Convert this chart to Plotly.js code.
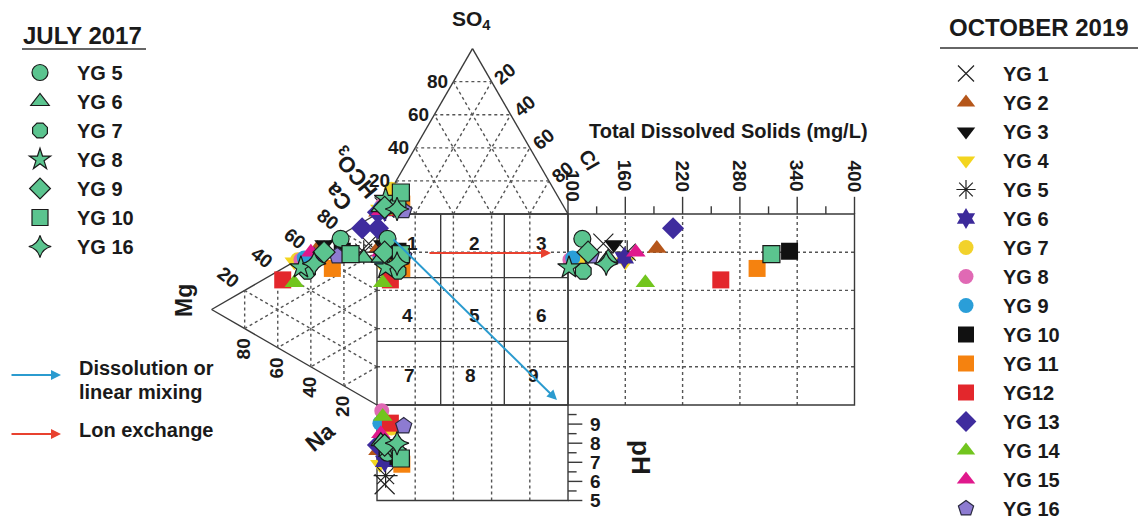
<!DOCTYPE html>
<html><head><meta charset="utf-8">
<script src="https://cdn.plot.ly/plotly-3.0.1.min.js"></script>
<style>html,body{margin:0;padding:0;background:#fff;} #chart{width:1142px;height:528px;}</style>
</head><body><div id="chart"></div>
<script>
// ---------------- DATA ----------------
// July 2017 samples
const julyNames   = ['YG 5','YG 6','YG 7','YG 8','YG 9','YG 10','YG 16'];
const julySymbols = ['circle','triangle-up','octagon','star','diamond','square','star-diamond'];
const julyCa   = [76, 73, 49, 49, 64, 71, 55];
const julyMg   = [22,  8, 42, 46, 32, 16, 38];
const julyNa   = [ 2, 19,  9,  5,  4, 13,  7];
const julyHCO3 = [92, 96, 86, 91, 94, 81, 88];
const julySO4  = [ 5,  4,  6,  9,  4, 13,  3];
const julyCl   = [ 3,  0,  8,  0,  2,  6,  9];
const julyTDS  = [115, 142, 116, 101, 121, 313, 140];
const julyPH   = [7.5, 8.1, 7.5, 7.8, 7.9, 7.2, 8.0];

// October 2019 samples
const octNames   = ['YG 1','YG 2','YG 3','YG 4','YG 5','YG 6','YG 7','YG 8','YG 9','YG 10','YG 11','YG12','YG 13','YG 14','YG 15','YG 16'];
const octSymbols = ['x-thin-open','triangle-up','triangle-down','triangle-down','asterisk-open','hexagram','circle','circle','circle','square','square','square','diamond','triangle-up','triangle-up','pentagon'];
const octColors  = ['#222222','#B5561A','#111111','#F3D51E','#222222','#3C2A9A','#F2D22B','#E069B4','#2A9ED8','#111111','#F5820F','#E3272C','#3F2C9E','#72C51E','#E0188C','#8D7BD1'];
const octCa   = [82, 64, 68, 50, 76, 58, 52, 53, 55, 70, 58, 37, 88, 39, 60, 66];
const octMg   = [ 5, 36, 32, 50,  8, 38, 48, 46, 44, 21, 27, 57,  9, 50, 40, 24];
const octNa   = [13,  0,  0,  0, 16,  4,  0,  1,  1,  9, 15,  6,  3, 11,  0, 10];
const octHCO3 = [94, 99, 96, 97, 94, 95, 85, 95, 97, 87, 84, 91, 99, 96, 97, 85];
const octSO4  = [ 4,  1,  2,  3,  3,  2, 15,  5,  3,  4,  6,  4,  1,  2,  2,  2];
const octCl   = [ 2,  0,  2,  0,  3,  3,  0,  0,  0,  9, 10,  5,  0,  2,  1, 13];
const octTDS  = [137, 193, 148, 160, 162, 159, 113, 102, 105, 332, 298, 260, 210, 181, 171, 124];
const octPH   = [5.85, 7.6, 8.0, 6.9, 6.3, 7.05, 8.8, 9.7, 9.05, 7.3, 6.9, 9.05, 7.9, 9.4, 8.5, 8.9];

const tdsTicks = [100, 160, 220, 280, 340, 400];
const phTicks  = [5, 6, 7, 8, 9];
const pctTicks = [20, 40, 60, 80];

// ---------------- GEOMETRY (Durov) ----------------
const S3 = Math.sqrt(3) / 2;
const PPU = 1.91, X0 = 377, Y0 = 405;           // pixel layout helpers
const ux = p => (p - X0) / PPU, uy = p => (Y0 - p) / PPU;
const anionXY  = (h, s, c) => [c + s / 2, 100 + S3 * s];
const cationXY = (ca, mg, na) => [-S3 * mg, ca + mg / 2];
const tdsX = t => 100 + (t - 100) * 0.5;
const phY  = p => (p - 10) * 10;

function samplePoints(ca, mg, na, h, s, c, t, p) {
  const a = anionXY(h, s, c), k = cationXY(ca, mg, na);
  const sx = a[0], sy = k[1];
  return {x: [a[0], k[0], sx, tdsX(t), sx], y: [a[1], k[1], sy, sy, phY(p)]};
}

const FONT = 'Liberation Sans, Arial, sans-serif';
const traces = [];
octNames.forEach((n, i) => {
  const pts = samplePoints(octCa[i], octMg[i], octNa[i], octHCO3[i], octSO4[i], octCl[i], octTDS[i], octPH[i]);
  const sym = octSymbols[i];
  const open = sym.endsWith('-open');
  let size = 17;
  if (sym === 'circle') size = 15;
  if (open) size = 20;
  traces.push({
    type: 'scatter', mode: 'markers', name: n, legend: 'legend2',
    x: pts.x, y: pts.y, cliponaxis: false, hoverinfo: 'name',
    marker: {symbol: sym, size: size, color: octColors[i],
      line: {color: sym === 'pentagon' ? '#2a2a40' : octColors[i], width: open ? 1.2 : (sym === 'pentagon' ? 1.2 : 0)}}
  });
});
julyNames.forEach((n, i) => {
  const pts = samplePoints(julyCa[i], julyMg[i], julyNa[i], julyHCO3[i], julySO4[i], julyCl[i], julyTDS[i], julyPH[i]);
  traces.push({
    type: 'scatter', mode: 'markers', name: n, legend: 'legend',
    x: pts.x, y: pts.y, cliponaxis: false, hoverinfo: 'name',
    marker: {symbol: julySymbols[i], size: 17, color: '#5BC48F', line: {color: '#1a1a1a', width: 1.2}}
  });
});

// ---------------- SHAPES ----------------
const shapes = [];
const SOLID = {color: '#3a3a3a', width: 1.4};
const DOT = {color: '#555555', width: 1.4, dash: 'dot'};
const seg = (x0, y0, x1, y1, line) => shapes.push({type: 'line', xref: 'x', yref: 'y', x0, y0, x1, y1, line, layer: 'below'});

// top triangle
const H = 100 * S3;
seg(0, 100, 50, 100 + H, SOLID); seg(50, 100 + H, 100, 100, SOLID); seg(0, 100, 100, 100, SOLID);
pctTicks.forEach(k => {
  seg(k / 2, 100 + S3 * k, 100 - k / 2, 100 + S3 * k, DOT);
  seg(k, 100, k + (100 - k) / 2, 100 + S3 * (100 - k), DOT);
  seg(100 - k, 100, (100 - k) / 2, 100 + S3 * (100 - k), DOT);
});
// left triangle
seg(0, 100, -H, 50, SOLID); seg(-H, 50, 0, 0, SOLID);
pctTicks.forEach(k => {
  seg(-S3 * k, k / 2, -S3 * k, 100 - k / 2, DOT);
  seg(0, k, -S3 * (100 - k), k + (100 - k) / 2, DOT);
  seg(0, 100 - k, -S3 * (100 - k), (100 - k) / 2, DOT);
});
// square grid dotted, extended into TDS and pH panels
pctTicks.forEach(k => {
  seg(k, -50, k, 100, DOT);
  seg(0, k, tdsX(400), k, DOT);
});
tdsTicks.slice(1, -1).forEach(t => seg(tdsX(t), 0, tdsX(t), 100, DOT));
// square, 3x3 fields
shapes.push({type: 'rect', x0: 0, y0: 0, x1: 100, y1: 100, line: SOLID, layer: 'below'});
[100 / 3, 200 / 3].forEach(v => { seg(v, 0, v, 100, SOLID); seg(0, v, 100, v, SOLID); });
// TDS panel
shapes.push({type: 'rect', x0: 100, y0: 0, x1: tdsX(400), y1: 100, line: SOLID, layer: 'below'});
for (let t = 100; t <= 400; t += 30) {
  const major = (t - 100) % 60 === 0;
  seg(tdsX(t), 100, tdsX(t), 100 + (major ? 9 : 4), SOLID);
}
// pH panel
shapes.push({type: 'rect', x0: 0, y0: -50, x1: 100, y1: 0, line: SOLID, layer: 'below'});
for (let p = 5; p <= 9.5; p += 0.5) {
  const major = Number.isInteger(p);
  seg(100, phY(p), 100 + (major ? 7.5 : 4.5), phY(p), SOLID);
}
// legend title underlines
const W = 1142, HH = 528;
const px = v => v / W, py = v => 1 - v / HH;
shapes.push({type: 'line', xref: 'paper', yref: 'paper', x0: px(22), x1: px(146), y0: py(49), y1: py(49), line: {color: '#333', width: 1.6}});
shapes.push({type: 'line', xref: 'paper', yref: 'paper', x0: px(940), x1: px(1138), y0: py(48), y1: py(48), line: {color: '#333', width: 1.6}});

// ---------------- ANNOTATIONS ----------------
const annotations = [];
function txt(text, x, y, size, angle, extra) {
  annotations.push(Object.assign({text, x, y, xref: 'x', yref: 'y', showarrow: false, textangle: angle || 0,
    font: {family: FONT, size: size, color: '#1a1a1a', weight: 'bold'}, xanchor: 'center', yanchor: 'middle'}, extra || {}));
}
function ptxt(text, x, y, size, extra) {
  annotations.push(Object.assign({text, x: px(x), y: py(y), xref: 'paper', yref: 'paper', showarrow: false,
    font: {family: FONT, size: size, color: '#1a1a1a', weight: 'bold'}, xanchor: 'left', yanchor: 'middle'}, extra || {}));
}
// top triangle labels
txt('SO<sub>4</sub>', ux(471), uy(20), 21);
pctTicks.forEach(k => {
  txt(String(k), k / 2 - 8.5, 100 + S3 * k, 19);
  txt(String(100 - k), 100 - k / 2 + 7, 100 + S3 * k + 4.5, 19, -40);
});
txt('100', ux(573), uy(186), 19, 90);
txt('Cl', ux(589), uy(160), 20, 60);
txt('HCO<sub>3</sub>', ux(356), uy(173), 22, -130);
txt('Ca', ux(338), uy(197), 22, -130);
// left triangle labels
pctTicks.forEach(k => {
  txt(String(100 - k), -S3 * k - 8.5, 100 - k / 2 + 7, 19, 38);
  txt(String(k), -S3 * k - 0.5, k / 2 - 10.5, 19, -90);
});
txt('Mg', ux(184), uy(301), 23, -90);
txt('Na', ux(320), uy(437), 23, -40);
// field numbers
const fieldX = [[18.8, 50.8, 85.9], [16.2, 50.8, 85.9], [16.8, 48.7, 81.7]];
const fieldY = [84.8, 47.1, 15.2];
let f = 1;
fieldY.forEach((yy, r) => fieldX[r].forEach(xx => { txt(String(f++), xx, yy, 19); }));
// TDS labels
txt('Total Dissolved Solids (mg/L)', ux(728), uy(131), 20);
tdsTicks.forEach(t => { if (t !== 100) txt(String(t), tdsX(t), uy(176), 19, 90); });
// pH labels
phTicks.forEach(p => txt(String(p), ux(588), phY(p), 19, 0, {xanchor: 'left'}));
txt('pH', ux(641), uy(457), 26, 90);

// process arrows in diagram
annotations.push({x: ux(557), y: uy(400), ax: ux(392), ay: uy(238), xref: 'x', yref: 'y', axref: 'x', ayref: 'y',
  showarrow: true, arrowhead: 2, arrowsize: 1, arrowwidth: 2, arrowcolor: '#2B9BCF', text: ''});
annotations.push({x: ux(551), y: uy(253), ax: ux(428), ay: uy(253), xref: 'x', yref: 'y', axref: 'x', ayref: 'y',
  showarrow: true, arrowhead: 2, arrowsize: 1, arrowwidth: 2, arrowcolor: '#E8412F', text: ''});
// arrow legend
annotations.push({x: px(61), y: py(375), ax: -51, ay: 0, xref: 'paper', yref: 'paper',
  showarrow: true, arrowhead: 2, arrowsize: 1, arrowwidth: 2, arrowcolor: '#2B9BCF', text: ''});
annotations.push({x: px(61), y: py(434), ax: -51, ay: 0, xref: 'paper', yref: 'paper',
  showarrow: true, arrowhead: 2, arrowsize: 1, arrowwidth: 2, arrowcolor: '#E8412F', text: ''});
ptxt('Dissolution or', 77, 368, 20);
ptxt('linear mixing', 77, 392, 20);
ptxt('Lon exchange', 77, 430, 20);
// legend titles
ptxt('JULY 2017', 21, 36, 24);
ptxt('OCTOBER 2019', 947, 28, 24);

// ---------------- LAYOUT ----------------
const legendBase = {font: {family: FONT, size: 20, color: '#1a1a1a', weight: 'bold'}, bgcolor: 'rgba(0,0,0,0)',
  xanchor: 'left', yanchor: 'top', traceorder: 'normal', itemclick: false, itemdoubleclick: false, itemwidth: 64, tracegroupgap: 0};
const layout = {
  width: W, height: HH, margin: {l: 0, r: 0, t: 0, b: 0}, paper_bgcolor: '#fff', plot_bgcolor: '#fff',
  xaxis: {range: [ux(0), ux(W)], visible: false, fixedrange: true},
  yaxis: {range: [uy(HH), uy(0)], visible: false, fixedrange: true},
  showlegend: true,
  legend: Object.assign({}, legendBase, {x: px(3), y: py(53)}),
  legend2: Object.assign({}, legendBase, {x: px(929), y: py(56)}),
  shapes, annotations
};
Plotly.newPlot('chart', traces, layout, {staticPlot: false, displayModeBar: false, responsive: false});
</script>
</body></html>
